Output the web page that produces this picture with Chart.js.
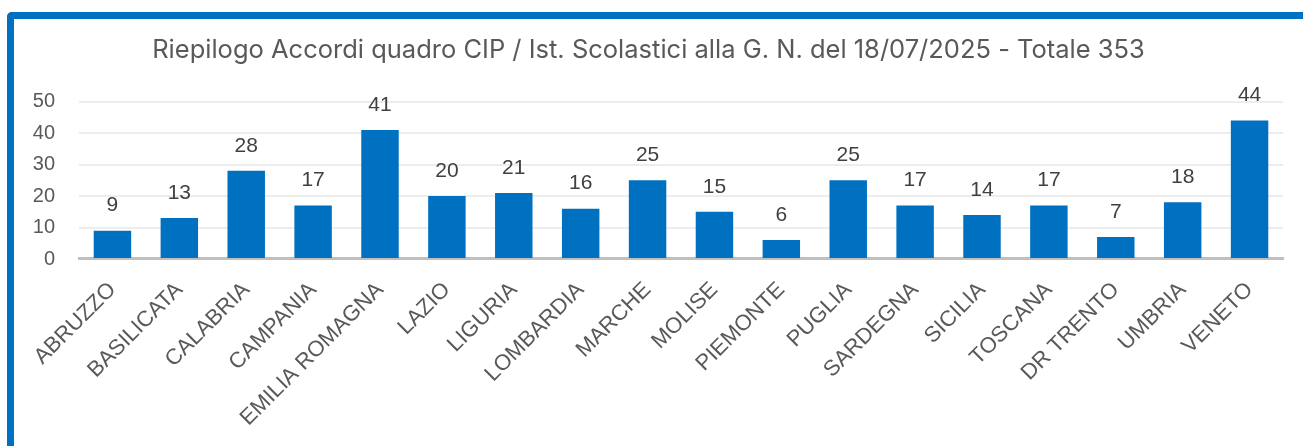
<!DOCTYPE html>
<html>
<head>
<meta charset="utf-8">
<script src="https://cdn.jsdelivr.net/npm/chart.js@4"></script>
<style>
	html, body { margin: 0; padding: 0; background: #fff; overflow: hidden; }
	#box {
		position: absolute; left: 7px; top: 12px;
		width: 1310px; height: 450px;
		border-top: 7px solid #0070c0; border-left: 7px solid #0070c0;
		border-top-left-radius: 5px;
	}
	#myChart { position: absolute; left: 0; top: 0; }
</style>
</head>
<body>
<div id="box"><canvas id="myChart" width="1289" height="427"></canvas></div>
<script>
	// dati
	var regioni = [ 'ABRUZZO', 'BASILICATA', 'CALABRIA', 'CAMPANIA', 'EMILIA ROMAGNA', 'LAZIO',
			'LIGURIA', 'LOMBARDIA', 'MARCHE', 'MOLISE', 'PIEMONTE', 'PUGLIA', 'SARDEGNA',
			'SICILIA', 'TOSCANA', 'DR TRENTO', 'UMBRIA', 'VENETO' ];
	var accordi = [ 9, 13, 28, 17, 41, 20, 21, 16, 25, 15, 6, 25, 17, 14, 17, 7, 18, 44 ];
	var titolo = 'Riepilogo Accordi quadro CIP / Ist. Scolastici alla G. N. del 18/07/2025 - Totale 353';

	// etichette sopra le barre
	var valueLabels = {
		id : 'valueLabels',
		afterDatasetsDraw : function(chart) {
			var c = chart.ctx;
			var meta = chart.getDatasetMeta(0);
			c.save();
			c.font = '21px "Liberation Sans", Arial, sans-serif';
			c.fillStyle = '#404040';
			c.textAlign = 'center';
			c.textBaseline = 'middle';
			meta.data.forEach(function(bar, i) {
				c.fillText(accordi[i], bar.x, bar.y - 25);
			});
			c.restore();
		}
	};

	var ctx = document.getElementById('myChart');
	var myChart = new Chart(ctx, {
		type : 'bar',
		data : {
			labels : regioni,
			datasets : [ {
				label : 'Accordi',
				data : accordi,
				backgroundColor : '#0070c0',
				categoryPercentage : 1,
				barPercentage : 0.56
			} ]
		},
		options : {
			responsive : false,
			animation : false,
			layout : { padding : { top : 16, right : 20, left : 0, bottom : 0 } },
			plugins : {
				legend : { display : false },
				tooltip : { enabled : false },
				title : {
					display : true,
					text : titolo,
					color : '#595959',
					font : { family : 'Inter, "Noto Sans", sans-serif', size : 25.5, weight : 'normal' },
					padding : { top : 0, bottom : 36 }
				}
			},
			scales : {
				x : {
					grid : { display : false },
					border : { color : '#bfbfbf', width : 3 },
					ticks : {
						color : '#595959',
						font : { family : '"Liberation Sans", Arial, sans-serif', size : 22 },
						minRotation : 45,
						maxRotation : 45,
						padding : 10,
						autoSkip : false
					},
					afterFit : function(scale) { scale.height = 187; }
				},
				y : {
					min : 0,
					max : 50,
					ticks : {
						stepSize : 10,
						padding : 24,
						color : '#595959',
						font : { family : '"Liberation Sans", Arial, sans-serif', size : 20 }
					},
					grid : { color : '#ededed', lineWidth : 2, drawTicks : false },
					border : { display : false },
					afterFit : function(scale) { scale.width = 65; }
				}
			}
		},
		plugins : [ valueLabels ]
	});
</script>
</body>
</html>
